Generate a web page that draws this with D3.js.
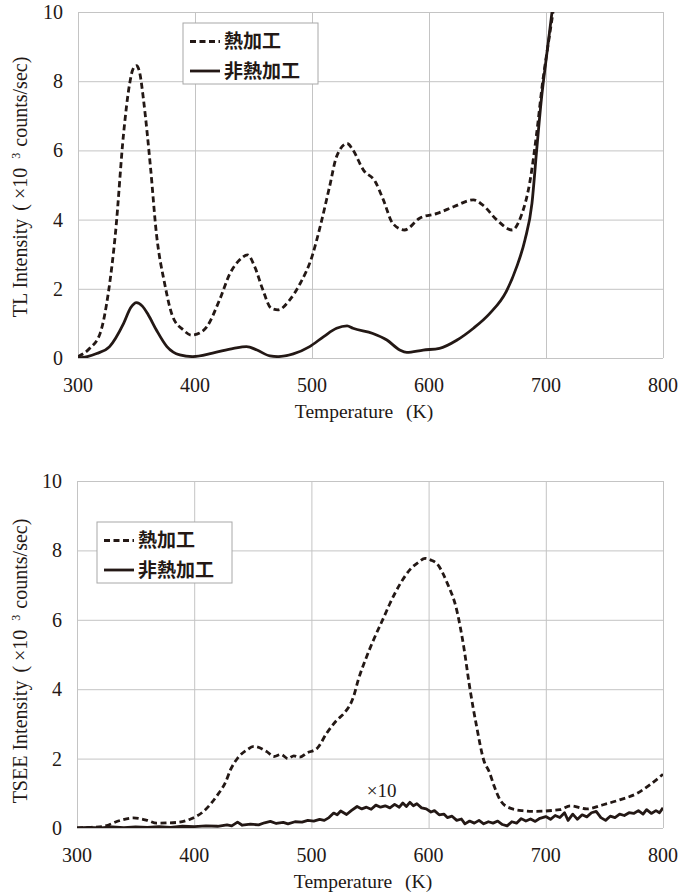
<!DOCTYPE html>
<html>
<head>
<meta charset="utf-8">
<script src="https://cdn.jsdelivr.net/npm/d3@7"></script>
<style>
  body { margin: 0; background: #fff; }
  svg text { fill: #231815; }
</style>
</head>
<body>
<div id="drawing"></div>
<script>
// ---- data ----

// x ticks / y ticks shared by both panels
const xTicks = [300, 400, 500, 600, 700, 800];
const yTicks = [0, 2, 4, 6, 8, 10];
const legendLabels = ['熱加工', '非熱加工'];

// TL, heat treated (dashed)
const tlHeatT = [300, 310, 319, 326, 332, 339, 344, 347, 350, 353, 356, 362, 367, 374, 381, 390, 397, 404, 410, 421, 430, 438,
  445, 451, 458, 465, 471, 481, 490, 500, 507, 515, 521, 530, 535, 544, 554, 561, 569, 579, 592, 607,
  621, 638, 646, 658, 671, 679, 686, 692, 697, 702, 706, 712];
const tlHeatV = [0.04, 0.28, 0.72, 1.9, 3.6, 6.5, 7.9, 8.35, 8.45, 8.2, 7.46, 5.5, 3.6, 2.16, 1.19, 0.81, 0.66, 0.72, 0.9, 1.68, 2.45, 2.83,
  2.98, 2.64, 1.97, 1.44, 1.39, 1.68, 2.16, 2.93, 3.8, 4.95, 5.82, 6.2, 6.01, 5.43, 5.1, 4.57, 3.89, 3.7, 4.04, 4.18,
  4.37, 4.57, 4.42, 3.99, 3.7, 4.13, 5.05, 6.49, 7.94, 9.1, 10.0, 11.5];

// TL, not heat treated (solid)
const tlPlainT = [300, 308, 316, 327, 339, 345, 350, 355, 360, 367, 376, 387, 398, 415, 433, 444, 453, 464, 471, 484,
  498, 510, 521, 530, 535, 552, 564, 575, 581, 595, 609, 624, 638, 652, 666, 675, 682, 688, 692, 696, 700, 705, 712];
const tlPlainV = [0.0, 0.04, 0.13, 0.33, 1.0, 1.45, 1.6, 1.5, 1.25, 0.81, 0.33, 0.09, 0.04, 0.14, 0.28, 0.33, 0.23, 0.06, 0.04, 0.12,
  0.33, 0.62, 0.86, 0.93, 0.86, 0.71, 0.52, 0.23, 0.16, 0.23, 0.28, 0.52, 0.86, 1.29, 1.92, 2.64, 3.41, 4.47, 6.0, 7.46, 8.6, 9.96, 12];

// TSEE, heat treated (dashed)
const tseeHeatT = [300, 312, 323, 337, 348, 360, 368, 385, 397, 408, 419, 427, 431, 437, 445, 451, 462, 468, 474, 480,
  485, 490, 496, 505, 513, 522, 528, 536, 540, 546, 553, 562, 567, 576, 585, 591, 597, 602, 607, 616,
  624, 630, 635, 641, 647, 652, 656, 661, 669, 680, 690, 712, 721, 735, 749, 763, 778, 789, 800];
const tseeHeatV = [0.0, 0.02, 0.05, 0.22, 0.29, 0.22, 0.14, 0.16, 0.26, 0.48, 0.91, 1.34, 1.68, 2.01, 2.25, 2.35, 2.2, 2.06, 2.12, 2.0,
  2.08, 2.04, 2.16, 2.3, 2.73, 3.12, 3.31, 3.79, 4.27, 4.84, 5.42, 6.09, 6.47, 7.05, 7.48, 7.65, 7.77, 7.72, 7.62, 7.05,
  6.28, 5.22, 4.07, 2.92, 1.96, 1.6, 1.2, 0.81, 0.58, 0.5, 0.48, 0.53, 0.64, 0.55, 0.67, 0.81, 1.0, 1.25, 1.55];

// TSEE, not heat treated (solid, x10, noisy)
const tseePlainT = [300, 310, 320, 330, 340, 350, 360, 370, 380, 390, 400, 410, 420, 428, 432, 437, 441, 448, 455, 460,
  465, 470, 476, 480, 486, 492, 497, 502, 507, 511, 515, 519, 522, 525, 530, 534, 539, 543, 547, 551,
  555, 559, 563, 567, 571, 575, 578, 581, 584, 587, 590, 594, 598, 602, 605, 609, 613, 616, 620, 624,
  628, 631, 635, 639, 643, 647, 651, 655, 659, 663, 667, 671, 675, 679, 683, 687, 691, 695, 700, 704,
  708, 712, 716, 719, 723, 727, 731, 735, 739, 743, 747, 751, 755, 759, 763, 767, 771, 775, 779, 783,
  786, 790, 794, 797, 800];
const tseePlainV = [0.0, 0.02, 0.0, 0.03, 0.01, 0.03, 0.02, 0.04, 0.02, 0.05, 0.04, 0.06, 0.05, 0.09, 0.06, 0.17, 0.08, 0.11, 0.09, 0.15,
  0.19, 0.13, 0.16, 0.12, 0.18, 0.17, 0.22, 0.2, 0.25, 0.22, 0.3, 0.43, 0.38, 0.49, 0.39, 0.5, 0.62, 0.55, 0.6, 0.54,
  0.66, 0.6, 0.64, 0.58, 0.68, 0.6, 0.72, 0.62, 0.74, 0.64, 0.7, 0.58, 0.55, 0.46, 0.5, 0.38, 0.4, 0.3, 0.34, 0.22,
  0.26, 0.12, 0.2, 0.14, 0.22, 0.12, 0.18, 0.14, 0.2, 0.1, 0.06, 0.18, 0.14, 0.27, 0.2, 0.26, 0.19, 0.28, 0.33, 0.25,
  0.36, 0.3, 0.44, 0.22, 0.4, 0.25, 0.38, 0.32, 0.44, 0.48, 0.3, 0.22, 0.34, 0.3, 0.4, 0.36, 0.44, 0.42, 0.5, 0.4,
  0.53, 0.42, 0.5, 0.44, 0.58];

// ---- drawing ----
const svgWidth = 682;
const svgHeight = 896;
const ink = '#231815';
const gridColor = '#c4c4c4';
const serif = '"Liberation Serif", "Times New Roman", serif';
const gothic = '"Noto Sans CJK JP", sans-serif';

const svg = d3.select('#drawing')
  .append('svg')
  .attr('width', svgWidth)
  .attr('height', svgHeight);

const zip = (xs, ys) => xs.map((x, i) => [x, ys[i]]);

function drawPanel(p) {
  const x = d3.scaleLinear().domain([300, 800]).range([p.left, p.right]);
  const y = d3.scaleLinear().domain([0, 10]).range([p.bottom, p.top]);
  const g = svg.append('g');

  // grid
  g.append('g')
    .attr('transform', `translate(0,${p.bottom})`)
    .call(d3.axisBottom(x).tickValues(xTicks).tickSize(-(p.bottom - p.top)).tickFormat(''))
    .call(a => a.select('.domain').remove())
    .selectAll('line').attr('stroke', gridColor);
  g.append('g')
    .attr('transform', `translate(${p.left},0)`)
    .call(d3.axisLeft(y).tickValues(yTicks).tickSize(-(p.right - p.left)).tickFormat(''))
    .call(a => a.select('.domain').remove())
    .selectAll('line').attr('stroke', gridColor);

  // tick labels
  g.selectAll('.xl').data(xTicks).enter().append('text')
    .attr('x', d => x(d)).attr('y', p.bottom + 34)
    .attr('text-anchor', 'middle')
    .style('font', `20px ${serif}`)
    .text(d => d);
  g.selectAll('.yl').data(yTicks).enter().append('text')
    .attr('x', p.left - 15).attr('y', d => y(d)).attr('dy', '0.35em')
    .attr('text-anchor', 'end')
    .style('font', `20px ${serif}`)
    .text(d => d);

  // axis titles
  const xt = g.append('text')
    .attr('x', p.left + 286).attr('y', p.bottom + 60)
    .attr('text-anchor', 'middle')
    .style('font', `19.5px ${serif}`);
  xt.append('tspan').text('Temperature');
  xt.append('tspan').attr('dx', 13).text('(K)');

  const yt = g.append('text')
    .attr('transform', `translate(27,${p.yTitleMid}) rotate(-90)`)
    .attr('text-anchor', 'middle')
    .style('font', `20px ${serif}`);
  yt.append('tspan').text(p.yName + ' Intensity');
  yt.append('tspan').attr('dx', 8).text('(');
  yt.append('tspan').attr('dx', 5).text('×10');
  yt.append('tspan').attr('dx', 9).attr('dy', -7).style('font-size', '12px').text('3');
  yt.append('tspan').attr('dx', 6).attr('dy', 7).text('counts/sec)');

  // curves
  const clipId = 'clip' + p.yName;
  svg.append('clipPath').attr('id', clipId)
    .append('rect')
    .attr('x', p.left).attr('y', p.top)
    .attr('width', p.right - p.left).attr('height', p.bottom - p.top);

  const lineGen = d3.line().x(d => x(d[0])).y(d => y(d[1]));
  const curves = g.append('g').attr('clip-path', `url(#${clipId})`);

  curves.append('path')
    .attr('d', lineGen.curve(p.plainCurve)(zip(p.plainT, p.plainV)))
    .attr('fill', 'none').attr('stroke', ink).attr('stroke-width', 2.8)
    .attr('stroke-linejoin', 'round');
  curves.append('path')
    .attr('d', lineGen.curve(d3.curveMonotoneX)(zip(p.heatT, p.heatV)))
    .attr('fill', 'none').attr('stroke', ink).attr('stroke-width', 2.8)
    .attr('stroke-dasharray', '6,3.5');

  // legend
  const lg = g.append('g').attr('transform', `translate(${p.legX},${p.legY})`);
  lg.append('rect')
    .attr('width', 135).attr('height', 61)
    .attr('fill', '#fff').attr('stroke', '#a8a8a8');
  legendLabels.forEach((lab, i) => {
    const ly = 18.5 + i * 29.5;
    lg.append('line')
      .attr('x1', 7).attr('x2', 37).attr('y1', ly).attr('y2', ly)
      .attr('stroke', ink).attr('stroke-width', 2.8)
      .attr('stroke-dasharray', i === 0 ? '6,3.5' : null);
    lg.append('text')
      .attr('x', 41).attr('y', ly).attr('dy', '0.36em')
      .style('font', `bold 19px ${gothic}`)
      .text(lab);
  });

  return {x, y, g};
}

drawPanel({
  left: 78, right: 663, top: 12, bottom: 358,
  yName: 'TL', yTitleMid: 187,
  heatT: tlHeatT, heatV: tlHeatV, plainT: tlPlainT, plainV: tlPlainV,
  plainCurve: d3.curveMonotoneX,
  legX: 183, legY: 23
});

const bottomPanel = drawPanel({
  left: 77, right: 663, top: 481, bottom: 828,
  yName: 'TSEE', yTitleMid: 661,
  heatT: tseeHeatT, heatV: tseeHeatV, plainT: tseePlainT, plainV: tseePlainV,
  plainCurve: d3.curveLinear,
  legX: 97, legY: 522
});

// "x10" note on the solid TSEE curve
bottomPanel.g.append('text')
  .attr('x', bottomPanel.x(560)).attr('y', bottomPanel.y(0.9))
  .attr('text-anchor', 'middle')
  .style('font', `19px ${serif}`)
  .text('×10');
</script>
</body>
</html>
